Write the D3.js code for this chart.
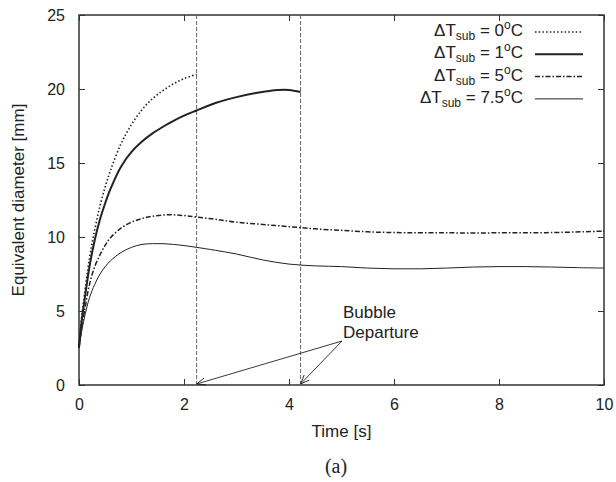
<!DOCTYPE html>
<html>
<head>
<meta charset="utf-8">
<script src="https://cdn.jsdelivr.net/npm/d3@7"></script>
<style>
  body { margin: 0; background: #fff; }
  text { font-family: "Liberation Sans", Arial, sans-serif; fill: #222; }
</style>
</head>
<body>
<script>
// data
let t0 = [0, 0.05, 0.1, 0.2, 0.3, 0.4, 0.5, 0.6, 0.8, 1.0, 1.2, 1.4, 1.6, 1.8, 2.0, 2.24]
let d0 = [2.5, 4.6, 6.0, 8.6, 10.5, 12.1, 13.4, 14.5, 16.3, 17.6, 18.6, 19.35, 19.9, 20.35, 20.7, 21.0]

let t1 = [0, 0.05, 0.1, 0.2, 0.3, 0.4, 0.5, 0.6, 0.8, 1.0, 1.2, 1.4, 1.6, 1.8, 2.0, 2.24, 2.6, 3.0, 3.4, 3.8, 4.0, 4.22]
let d1 = [2.5, 4.3, 5.6, 8.0, 9.8, 11.2, 12.3, 13.25, 14.75, 15.75, 16.45, 17.0, 17.45, 17.85, 18.2, 18.55, 19.05, 19.45, 19.75, 19.93, 19.93, 19.8]

let t5 = [0, 0.05, 0.1, 0.2, 0.3, 0.4, 0.5, 0.6, 0.8, 1.0, 1.2, 1.4, 1.7, 2.0, 2.24, 2.6, 3.0, 3.5, 4.0, 4.5, 5.0, 5.5, 6.0, 7.0, 8.0, 9.0, 10.0]
let d5 = [2.5, 3.9, 4.9, 6.8, 8.0, 8.8, 9.45, 9.95, 10.6, 11.0, 11.25, 11.4, 11.5, 11.45, 11.35, 11.2, 11.0, 10.85, 10.7, 10.55, 10.45, 10.35, 10.3, 10.28, 10.28, 10.3, 10.4]

let t75 = [0, 0.05, 0.1, 0.2, 0.3, 0.4, 0.5, 0.6, 0.8, 1.0, 1.2, 1.4, 1.6, 1.8, 2.0, 2.24, 2.6, 3.0, 3.5, 4.0, 4.5, 5.0, 5.5, 6.0, 6.5, 7.0, 7.5, 8.0, 8.5, 9.0, 9.5, 10.0]
let d75 = [2.5, 3.6, 4.5, 5.9, 6.8, 7.5, 8.0, 8.4, 8.95, 9.3, 9.5, 9.55, 9.55, 9.5, 9.42, 9.3, 9.1, 8.85, 8.45, 8.17, 8.05, 8.0, 7.9, 7.85, 7.85, 7.9, 7.97, 8.0, 8.0, 7.97, 7.93, 7.9]

let legendLabels = ["0", "1", "5", "7.5"]
let departures = [2.24, 4.22]
let xTicks = [0, 2, 4, 6, 8, 10]
let yTicks = [0, 5, 10, 15, 20, 25]

let W = 616, H = 482
let m = {left: 79, right: 12, top: 15, bottom: 97}

let svg = d3.select("body").append("svg")
    .attr("width", W)
    .attr("height", H)

let x = d3.scaleLinear().domain([0, 10]).range([m.left, W - m.right])
let y = d3.scaleLinear().domain([0, 25]).range([H - m.bottom, m.top])

// mirrored inward ticks like gnuplot
let axisColor = "#333"
function styleAxis(g){
    g.select(".domain").remove()
    g.selectAll(".tick line").attr("stroke", axisColor)
    g.selectAll(".tick text").style("font-size", "16px").attr("fill", "#222")
}
svg.append("g").attr("transform", `translate(0,${y(0)})`)
    .call(d3.axisBottom(x).tickValues(xTicks).tickSize(-6).tickPadding(14).tickFormat(d3.format("d")))
    .call(styleAxis)
svg.append("g").attr("transform", `translate(0,${y(25)})`)
    .call(d3.axisTop(x).tickValues(xTicks).tickSize(-6).tickFormat(""))
    .call(styleAxis)
svg.append("g").attr("transform", `translate(${x(0)},0)`)
    .call(d3.axisLeft(y).tickValues(yTicks).tickSize(-6).tickPadding(14).tickFormat(d3.format("d")))
    .call(styleAxis)
svg.append("g").attr("transform", `translate(${x(10)},0)`)
    .call(d3.axisRight(y).tickValues(yTicks).tickSize(-6).tickFormat(""))
    .call(styleAxis)

svg.append("rect")
    .attr("x", x(0)).attr("y", y(25))
    .attr("width", x(10) - x(0)).attr("height", y(0) - y(25))
    .attr("fill", "none").attr("stroke", axisColor).attr("stroke-width", 1.5)

// departure markers
svg.selectAll(".dep").data(departures).enter().append("line")
    .attr("x1", d => x(d)).attr("x2", d => x(d))
    .attr("y1", y(0)).attr("y2", y(25))
    .attr("stroke", "#666").attr("stroke-width", 1)
    .attr("stroke-dasharray", "4,2")

let series = [
    {t: t0, d: d0, width: 1.6, dash: "1.5,2.2"},
    {t: t1, d: d1, width: 2, dash: null},
    {t: t5, d: d5, width: 1.5, dash: "5,2,1.5,2"},
    {t: t75, d: d75, width: 1, dash: null}
]

let line = d3.line().curve(d3.curveCatmullRom.alpha(0.5))
series.forEach(s => {
    svg.append("path")
        .datum(s.t.map((v, i) => [x(v), y(s.d[i])]))
        .attr("d", line)
        .attr("fill", "none")
        .attr("stroke", "#222")
        .attr("stroke-width", s.width)
        .attr("stroke-dasharray", s.dash)
})

// legend
let leg = svg.append("g")
series.forEach((s, i) => {
    let by = 36 + i * 22.3
    let txt = leg.append("text")
        .attr("x", 523).attr("y", by)
        .attr("text-anchor", "end")
        .style("font-size", "17px")
    txt.append("tspan").text("\u0394T")
    txt.append("tspan").text("sub").attr("dy", 4).style("font-size", "12px")
    txt.append("tspan").text(" = " + legendLabels[i]).attr("dy", -4)
    txt.append("tspan").text("o").attr("dy", -7).style("font-size", "12px")
    txt.append("tspan").text("C").attr("dy", 7)
    leg.append("line")
        .attr("x1", 535).attr("x2", 583)
        .attr("y1", by - 4).attr("y2", by - 4)
        .attr("stroke", "#222")
        .attr("stroke-width", s.width)
        .attr("stroke-dasharray", s.dash)
})

// annotation
svg.append("defs").append("marker")
    .attr("id", "arr")
    .attr("viewBox", "0 0 10 10")
    .attr("refX", 10).attr("refY", 5)
    .attr("markerWidth", 9).attr("markerHeight", 9)
    .attr("markerUnits", "userSpaceOnUse")
    .attr("orient", "auto")
    .append("path")
    .attr("d", "M0,1 L10,5 L0,9")
    .attr("fill", "none").attr("stroke", "#222").attr("stroke-width", 1)

svg.selectAll(".arrow").data(departures).enter().append("line")
    .attr("x1", 342).attr("y1", 341)
    .attr("x2", d => x(d)).attr("y2", y(0) - 1)
    .attr("stroke", "#222").attr("stroke-width", 0.9)
    .attr("marker-end", "url(#arr)")

svg.append("text").attr("x", 343).attr("y", 318).style("font-size", "17px").text("Bubble")
svg.append("text").attr("x", 343).attr("y", 338).style("font-size", "17px").text("Departure")

// axis titles
svg.append("text")
    .attr("x", (x(0) + x(10)) / 2).attr("y", 437)
    .attr("text-anchor", "middle")
    .style("font-size", "17px")
    .text("Time [s]")

svg.append("text")
    .attr("transform", `translate(24,${(y(0) + y(25)) / 2}) rotate(-90)`)
    .attr("text-anchor", "middle")
    .style("font-size", "17px")
    .text("Equivalent diameter [mm]")

svg.append("text")
    .attr("x", 336).attr("y", 473)
    .attr("text-anchor", "middle")
    .style("font-family", "\"Liberation Serif\", serif")
    .style("font-size", "20px")
    .text("(a)")
</script>
</body>
</html>
